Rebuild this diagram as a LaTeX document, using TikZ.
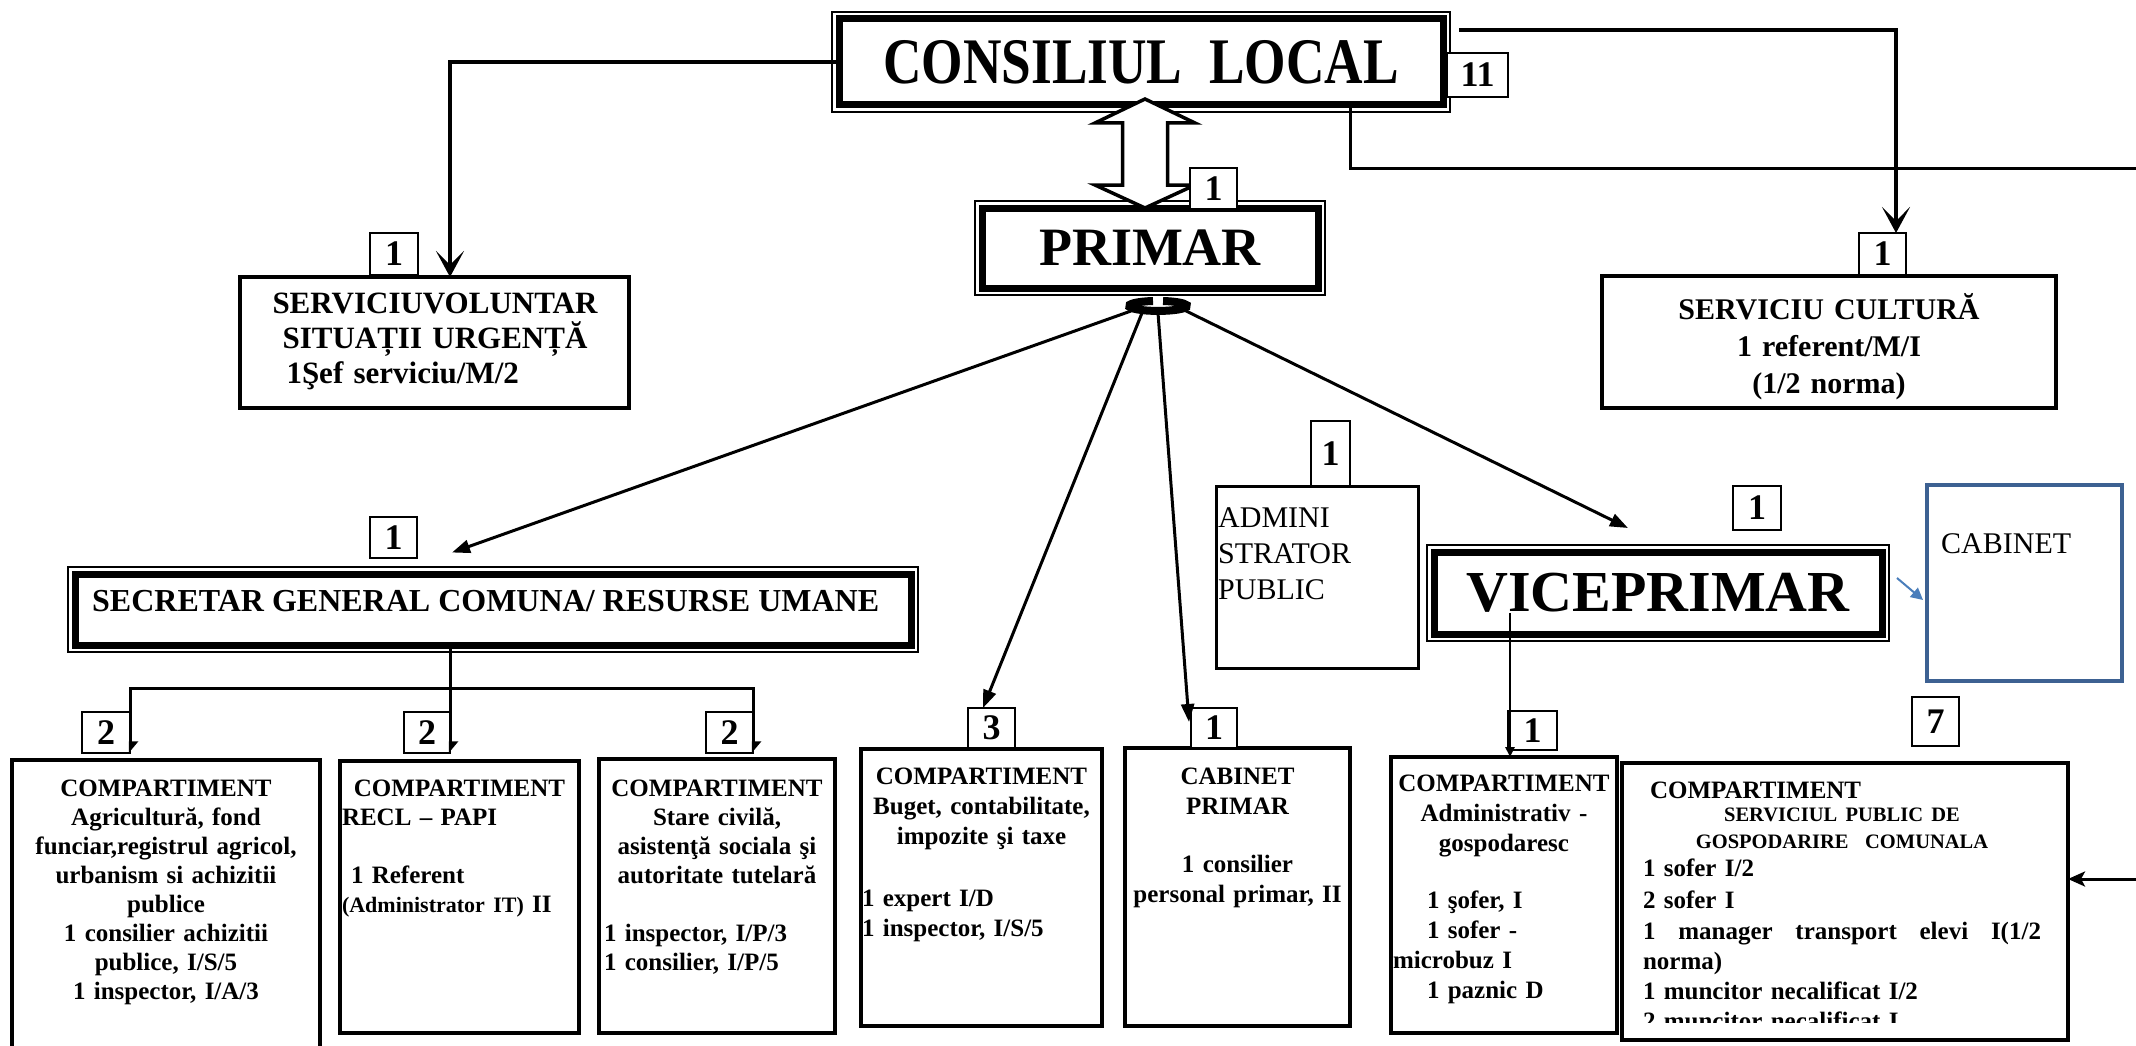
\documentclass[tikz,border=0pt]{standalone}
\usepackage{fontspec}
\setmainfont{Liberation Serif}
\usetikzlibrary{arrows.meta,calc}

\definecolor{cabblue}{RGB}{61,97,146}
\definecolor{arrblue}{RGB}{74,126,187}

\newcommand{\flushrow}[1]{\makebox[\hsize][l]{#1}}
\newcommand{\outerframe}[1]{\draw[line width=1.6pt] ([shift={(-7pt,7pt)}]#1.north west) rectangle ([shift={(7pt,-7pt)}]#1.south east);}

\tikzset{
  box/.style={draw, line width=3.5pt, outer sep=0pt, inner sep=0pt},
  headbox/.style={draw, line width=7pt, outer sep=0pt, inner sep=0pt, font=\bfseries},
  numbox/.style={draw, fill=white, line width=1.8pt, outer sep=0pt, inner sep=0pt,
    font=\fontsize{36}{36}\selectfont\bfseries},
  bodytxt/.style={anchor=north, inner sep=0pt, align=center,
    font=\fontsize{25}{29}\selectfont\bfseries},
  toptxt/.style={anchor=north, inner sep=0pt, align=center,
    font=\fontsize{31}{35}\selectfont\bfseries},
  plaintxt/.style={anchor=north west, inner sep=0pt, align=left,
    font=\fontsize{30}{36}\selectfont},
  heavy/.style={line width=4.5pt, -{Stealth[length=26pt, width=28pt, inset=14pt]}},
  thinarrow/.style={line width=3pt, -{Triangle[length=18pt, width=13pt]}},
  forkarrow/.style={line width=3pt, -{Triangle[left, length=10pt, width=16pt]}},
  edgearrow/.style={line width=3pt, -{Stealth[length=17pt, width=15pt, inset=4pt]}},
  droparrow/.style={line width=2.5pt, -{Triangle[length=10pt, width=9pt]}},
  bluearrow/.style={arrblue, line width=2pt, -{Triangle[length=12pt, width=12pt]}},
  hollowlink/.style={draw, fill=white, line width=3.5pt, line join=miter}
}

\begin{document}
\begin{tikzpicture}[x=1pt,y=-1pt]
  \useasboundingbox (0,0) rectangle (2136,1046);

  % conducere
  \node[headbox, minimum width=604, minimum height=86] (cl) at (1141,62)
    {\fontsize{65}{65}\selectfont\scalebox{0.82}[1]{CONSILIUL\ \ LOCAL}};
  \outerframe{cl}
  \node[headbox, minimum width=336, minimum height=80] (primar) at (1150,248)
    {\fontsize{54}{54}\selectfont PRIMAR};
  \outerframe{primar}
  \node[headbox, minimum width=836, minimum height=71] (secr) at (493,609.5) {};
  \outerframe{secr}
  \node[anchor=north west, inner sep=0pt, font=\fontsize{32}{32}\selectfont\bfseries]
    (secrtxt) at (92,590) {SECRETAR GENERAL COMUNA/ RESURSE UMANE};
  \node[headbox, minimum width=448, minimum height=82] (vice) at (1658,593)
    {\fontsize{58}{58}\selectfont VICEPRIMAR};
  \outerframe{vice}

  % servicii
  \node[box, minimum width=389, minimum height=131] (volunt) at (434.5,342.5) {};
  \node[toptxt, text width=345] (volunttxt) at (435,293)
    {SERVICIUVOLUNTAR\\ SITUAȚII URGENȚĂ\\ \flushrow{\hspace*{24pt}1Şef serviciu/M/2}};
  \node[box, minimum width=454, minimum height=132] (cult) at (1829,342) {};
  \node[toptxt, text width=420, font=\fontsize{30}{37}\selectfont\bfseries] (culttxt) at (1829,293)
    {SERVICIU CULTURĂ\\ 1 referent/M/I\\ (1/2 norma)};
  \node[box, line width=3pt, minimum width=202, minimum height=182] (admin) at (1317,577) {};
  \node[plaintxt] (admintxt) at (1218,507) {ADMINI\\ STRATOR\\ PUBLIC};
  \node[box, draw=cabblue, line width=4.5pt, minimum width=195, minimum height=196] (cabinet) at (2024.5,583) {};
  \node[plaintxt] (cabinettxt) at (1941,533) {CABINET};

  % compartimente
  \node[box, minimum width=308, minimum height=300] (agri) at (166,910) {};
  \node[bodytxt, text width=300] (agritxt) at (166,780)
    {COMPARTIMENT\\ Agricultură, fond\\ funciar,registrul agricol,\\ urbanism si achizitii\\ publice\\
     1 consilier achizitii\\ publice, I/S/5\\ 1 inspector, I/A/3};
  \node[box, minimum width=239, minimum height=272] (recl) at (459.5,897) {};
  \node[bodytxt, text width=235] (recltxt) at (459.5,780)
    {COMPARTIMENT\\ \flushrow{RECL -- PAPI}\\[29pt]
     \flushrow{\hspace*{9pt}1 Referent}\\
     \flushrow{{\fontsize{22}{29}\selectfont(Administrator IT)} II}};
  \node[box, minimum width=236, minimum height=274] (stare) at (717,896) {};
  \node[bodytxt, text width=226] (staretxt) at (717,780)
    {COMPARTIMENT\\ Stare civilă,\\ asistenţă sociala şi\\ autoritate tutelară\\[29pt]
     \flushrow{1 inspector, I/P/3}\\ \flushrow{1 consilier, I/P/5}};
  \node[box, minimum width=241, minimum height=277] (buget) at (981.5,887.5) {};
  \node[bodytxt, text width=239, font=\fontsize{25}{30}\selectfont\bfseries] (bugettxt) at (981.5,768)
    {COMPARTIMENT\\ Buget, contabilitate,\\ impozite şi taxe\\[32pt]
     \flushrow{1 expert I/D}\\ \flushrow{1 inspector, I/S/5}};
  \node[box, minimum width=225, minimum height=278] (cabprim) at (1237.5,887) {};
  \node[bodytxt, text width=225, font=\fontsize{25}{30}\selectfont\bfseries] (cabprimtxt) at (1237.5,768)
    {CABINET\\ PRIMAR\\[28pt] 1 consilier\\ personal primar, II};
  \node[box, minimum width=226, minimum height=276] (admg) at (1504,895) {};
  \node[bodytxt, text width=222, font=\fontsize{25}{30}\selectfont\bfseries] (admgtxt) at (1504,775)
    {COMPARTIMENT\\ Administrativ -\\ gospodaresc\\[27pt]
     \flushrow{\hspace*{34pt}1 şofer, I}\\ \flushrow{\hspace*{34pt}1 sofer -}\\
     \flushrow{microbuz I}\\ \flushrow{\hspace*{34pt}1 paznic D}};
  \node[box, minimum width=446, minimum height=277] (spgc) at (1845,901.5) {};
  \begin{scope}
    \clip (1622,763) rectangle (2068,1022);
    \node[bodytxt, text width=398, font=\fontsize{25}{30}\selectfont\bfseries] (spgctxt) at (1842,782)
      {\flushrow{\hspace*{7pt}COMPARTIMENT}\\[-7pt]
       {\fontsize{20.5}{30}\selectfont SERVICIUL PUBLIC DE}\\[-3pt]
       {\fontsize{20.5}{30}\selectfont GOSPODARIRE\ \ COMUNALA}\\[-2pt]
       \flushrow{1 sofer I/2}\\[2pt]
       \flushrow{2 sofer I}\\[1pt]
       \makebox[398pt]{1\hfill manager\hfill transport\hfill elevi\hfill I(1/2}\\
       \flushrow{norma)}\\
       \flushrow{1 muncitor necalificat I/2}\\
       \flushrow{2 muncitor necalificat I}};
  \end{scope}

  % sageata dubla consiliu - primar
  \coordinate (ltop) at ([shift={(4pt,6pt)}]cl.south);
  \coordinate (lbot) at ([xshift=-5pt]primar.north);
  \draw[hollowlink] (ltop) -- ++(50,24) -- ++(-27.5,0) -- ++(0,62) -- ++(27.5,0) -- (lbot)
    -- ++(-50,-23) -- ++(27.5,0) -- ++(0,-62) -- ++(-27.5,0) -- cycle;

  % numar posturi
  \node[numbox, minimum width=61, minimum height=44] (ncl) at (1477.5,75) {11};
  \node[numbox, minimum width=47, minimum height=41] (nprim) at (1213.5,188.5) {1};
  \node[numbox, minimum width=48, minimum height=42] (nvol) at (394,254) {1};
  \node[numbox, minimum width=47, minimum height=42] (ncult) at (1882.5,254) {1};
  \node[numbox, minimum width=47, minimum height=41] (nsecr) at (393.5,537.5) {1};
  \node[numbox, minimum width=39, minimum height=65] (nadm) at (1330.5,453.5) {1};
  \node[numbox, minimum width=48, minimum height=44] (nvice) at (1757,508) {1};
  \node[numbox, minimum width=48, minimum height=41] (nagri) at (106,732.5) {2};
  \node[numbox, minimum width=46, minimum height=41] (nrecl) at (427,732.5) {2};
  \node[numbox, minimum width=47, minimum height=41] (nstare) at (729.5,732.5) {2};
  \node[numbox, minimum width=47, minimum height=40] (nbuget) at (991.5,728) {3};
  \node[numbox, minimum width=46, minimum height=40] (ncab) at (1214,728) {1};
  \node[numbox, minimum width=49, minimum height=39] (nadmg) at (1532.5,730.5) {1};
  \node[numbox, minimum width=47, minimum height=49] (nspgc) at (1935.5,721.5) {7};

  % legaturi consiliu
  \draw[heavy] (cl.west) -| ([xshift=15.5pt]volunt.north);
  \draw[heavy] ([shift={(16pt,32pt)}]cl.east) -| ([xshift=13.5pt]ncult.north);
  \coordinate (edgeA) at (2136,168);
  \draw[line width=3pt] ([xshift=209pt]cl.south) |- (edgeA);
  \coordinate (edgeB) at (2136,879);
  \draw[edgearrow] (edgeB) -- (edgeB -| spgc.east);

  % legaturi primar
  \coordinate (knot) at (1158,306);
  \draw[line width=8pt] ([shift={(-5pt,5pt)}]knot)
    arc[start angle=100, end angle=440, x radius=29pt, y radius=5pt];
  \draw[thinarrow] ([shift={(-27pt,-5pt)}]knot) -- ($(nsecr.east)+(35,15)$);
  \draw[thinarrow] ([shift={(-16pt,-7pt)}]knot) -- ([xshift=-8.5pt]nbuget.north);
  \draw[thinarrow] ([shift={(0pt,-7pt)}]knot) -- ($(ncab.west)+(-2,-6)$);
  \draw[thinarrow] ([shift={(22pt,-2pt)}]knot) -- ($(vice.north)+(-30,-24)$);

  % secretar
  \coordinate (fork) at (450,688);
  \draw[line width=3pt] ([xshift=-43pt]secr.south) -- (fork);
  \draw[forkarrow] (fork) -| (nagri.south east);
  \draw[forkarrow] (fork) -- (nrecl.south east);
  \draw[forkarrow] (fork) -| (nstare.south east);

  % viceprimar
  \coordinate (vdrop) at ($(vice.center)+(-148,20)$);
  \draw[droparrow] (vdrop) -- (vdrop |- admg.north);
  \draw[bluearrow] ($(vice.east)+(15,-15)$) -- ($(cabinet.west)+(-4,17)$);
\end{tikzpicture}
\end{document}
